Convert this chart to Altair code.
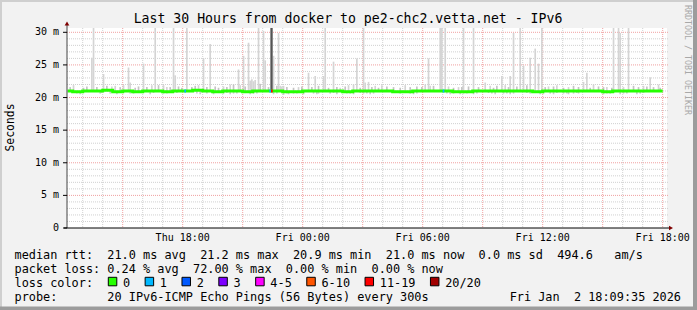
import altair as alt
import pandas as pd
from datetime import datetime, timedelta

MONO = "DejaVu Sans Mono"
T0 = datetime(2026, 1, 1, 12, 0, 0)  # Thu 12:00 (minute offsets below are from here)

# ---------------- data (minutes since Thu 12:00) ----------------
median_30min = [21.0, 20.9, 21.0, 21.0, 21.1, 20.9, 21.0, 20.9, 21.0, 21.0,
                20.9, 21.0, 21.0, 21.1, 21.0, 20.9, 21.0, 21.0, 20.9, 21.0,
                21.0, 21.0, 20.9, 20.9, 21.0, 21.0, 21.0, 21.0, 20.9, 21.0,
                21.0, 21.0, 21.0, 20.9, 20.9, 21.0, 21.0, 21.0, 21.0, 20.9,
                20.9, 21.0, 21.0, 21.0, 21.0, 21.0, 21.0, 20.9, 21.0, 21.0,
                21.0, 21.0, 21.0, 21.0, 20.9, 21.0, 21.0, 21.0, 21.0, 21.0]

spike_minute = [30, 85, 90, 120, 145, 155, 180, 195, 200, 240,
                265, 275, 300, 310, 330, 335, 370, 405, 420, 440,
                480, 500, 525, 530, 540, 555, 560, 565, 570, 575,
                585, 600, 605, 630, 645, 650, 655, 660, 705, 735,
                755, 780, 785, 810, 830, 855, 870, 880, 900, 905,
                915, 935, 955, 1025, 1085, 1095, 1100, 1130, 1135, 1145,
                1155, 1185, 1200, 1230, 1265, 1280, 1315, 1325, 1340, 1350,
                1370, 1380, 1400, 1415, 1425, 1435, 1455, 1480, 1515, 1560,
                1570, 1590, 1630, 1650, 1665, 1670, 1680, 1695, 1740, 1760,
                1785]
spike_top = [21.9, 26.1, 31.0, 23.6, 21.7, 21.8, 21.9, 24.6, 22.3, 25.2,
             21.9, 31.0, 21.9, 21.6, 31.0, 23.4, 31.0, 21.9, 26.0, 28.2,
             21.7, 22.0, 24.3, 21.9, 26.4, 28.4, 22.6, 22.8, 22.5, 22.7,
             31.0, 30.2, 25.7, 26.4, 29.9, 21.8, 21.7, 21.8, 21.6, 23.8,
             23.3, 23.3, 31.0, 25.5, 21.5, 21.9, 22.0, 26.0, 31.0, 22.3,
             22.4, 21.8, 21.9, 21.9, 22.0, 26.0, 21.8, 31.0, 31.0, 31.0,
             21.7, 21.6, 31.0, 31.0, 22.3, 21.8, 23.3, 21.9, 23.3, 29.9,
             31.0, 24.9, 26.1, 27.5, 25.2, 31.0, 21.7, 21.9, 21.6, 22.4,
             23.8, 22.0, 21.6, 31.0, 31.0, 29.9, 21.6, 31.0, 21.8, 23.1,
             22.0]

# small smoke bumps just above the median line
bump_minute = [20, 60, 70, 100, 130, 170, 215, 225, 250, 285,
               320, 345, 355, 385, 395, 430, 455, 465, 490, 510,
               545, 590, 615, 640, 670, 690, 715, 745, 765, 795,
               820, 845, 890, 925, 945, 970, 990, 1010, 1040, 1060,
               1075, 1110, 1170, 1195, 1215, 1245, 1290, 1300, 1335, 1360,
               1390, 1445, 1470, 1500, 1530, 1545, 1580, 1605, 1620, 1645,
               1710, 1725, 1750, 1770, 1790]
bump_top = [21.6, 21.5, 21.7, 21.6, 21.8, 21.6, 21.5, 21.7, 21.6, 21.9,
            21.6, 21.7, 21.5, 21.6, 21.8, 21.6, 21.7, 21.5, 21.6, 22.0,
            21.7, 22.1, 21.6, 21.8, 21.6, 21.5, 21.7, 21.6, 21.8, 21.5,
            21.6, 21.7, 21.5, 21.6, 21.5, 21.7, 21.6, 21.5, 21.6, 21.7,
            21.6, 21.8, 21.5, 21.6, 21.7, 21.6, 21.5, 21.8, 21.6, 21.7,
            21.9, 21.6, 21.7, 21.5, 21.8, 21.6, 21.5, 21.7, 21.6, 21.5,
            21.8, 21.6, 21.7, 21.6, 21.5]

# dense (dark) smoke column at the loss event: start/end minute and top
dark_start = [623]
dark_end = [630]
dark_top = [31.0]

base_minute = [40, 50, 110, 115, 140, 160, 200, 210, 260, 270,
               300, 310, 340, 400, 410, 430, 450, 480, 490, 500,
               510, 520, 535, 560, 570, 580, 630, 640, 660, 670,
               675, 690, 700, 710, 720, 750, 760, 765, 800, 810,
               820, 850, 860, 870, 890, 900, 910, 920, 930, 1010,
               1020, 1040, 1050, 1060, 1150, 1160, 1170, 1180, 1190, 1200,
               1210, 1230, 1240, 1275, 1285, 1295, 1320, 1330, 1340, 1350,
               1390, 1400, 1430, 1440, 1460, 1470, 1480, 1500, 1510, 1515,
               1530, 1540, 1545, 1620, 1630, 1640, 1650, 1670, 1680, 1690,
               1720, 1730, 1740]
base_lo = [20.6, 20.5, 20.6, 20.7, 20.6, 20.5, 20.6, 20.6, 20.5, 20.7,
           20.6, 20.6, 20.7, 20.6, 20.5, 20.6, 20.5, 20.6, 20.7, 20.5,
           20.6, 20.6, 20.7, 20.5, 20.6, 20.6, 20.5, 20.6, 20.4, 20.6,
           20.5, 20.6, 20.6, 20.7, 20.5, 20.6, 20.5, 20.6, 20.6, 20.7,
           20.5, 20.6, 20.6, 20.5, 20.7, 20.6, 20.6, 20.5, 20.6, 20.6,
           20.7, 20.6, 20.5, 20.6, 20.6, 20.5, 20.6, 20.7, 20.5, 20.6,
           20.6, 20.5, 20.6, 20.7, 20.6, 20.5, 20.6, 20.6, 20.5, 20.6,
           20.7, 20.6, 20.5, 20.6, 20.6, 20.5, 20.7, 20.6, 20.6, 20.5,
           20.6, 20.7, 20.6, 20.5, 20.6, 20.6, 20.7, 20.5, 20.6, 20.6,
           20.5, 20.6, 20.7]

loss_minute = [365, 620, 625, 1140]
loss_class = ["1", "1", "11-19", "1"]

loss_labels = ["0", "1", "2", "3", "4-5", "6-10", "11-19", "20/20"]
loss_colors = ["#26ff00", "#00b8ff", "#0059ff", "#7e00ff", "#ff00ff",
               "#ff5500", "#ff0000", "#a10000"]

y_ticks = [0, 5, 10, 15, 20, 25, 30]
y_tick_labels = ["0", "5 m", "10 m", "15 m", "20 m", "25 m", "30 m"]
x_label_minutes = [360, 720, 1080, 1440, 1800]
x_labels = ["Thu 18:00", "Fri 00:00", "Fri 06:00", "Fri 12:00", "Fri 18:00"]

stats_rtt = {"avg": 21.0, "max": 21.2, "min": 20.9, "now": 21.0, "sd": 0.0, "ams": 494.6}
stats_loss = {"avg": 0.24, "max": 72.00, "min": 0.00, "now": 0.00}
title_text = "Last 30 Hours from docker to pe2-chc2.vetta.net - IPv6"
probe_text = "20 IPv6-ICMP Echo Pings (56 Bytes) every 300s"
stamp_text = "Fri Jan  2 18:09:35 2026"

# ---------------- helpers ----------------
STEP = 5


def iso(m):
    return (T0 + timedelta(minutes=m)).strftime("%Y-%m-%dT%H:%M:%SZ")


bin_start = list(range(15, 1800, STEP))
med_of = {m: median_30min[m // 30] for m in bin_start}


def med_at(m):
    return median_30min[min(int(m) // 30, len(median_30min) - 1)]


line_df = pd.DataFrame({
    "t": [iso(m) for m in bin_start] + [iso(1800)],
    "v": [med_of[m] for m in bin_start] + [med_of[bin_start[-1]]],
})


def span_df(minutes, lo, hi, ends=None):
    ends = ends if ends is not None else [m + STEP for m in minutes]
    return pd.DataFrame({"t": [iso(m) for m in minutes],
                         "t2": [iso(m) for m in ends],
                         "lo": lo, "hi": hi})


spike_df = span_df(spike_minute, [med_at(m) for m in spike_minute], spike_top)
bump_df = span_df(bump_minute, [med_at(m) for m in bump_minute], bump_top)
dark_df = span_df(dark_start, [med_at(m) for m in dark_start], dark_top, ends=dark_end)
base_df = span_df(base_minute, base_lo, [med_at(m) for m in base_minute])
loss_df = span_df(loss_minute, [med_at(m) - 0.23 for m in loss_minute],
                  [med_at(m) + 0.23 for m in loss_minute])
loss_df["loss"] = loss_class

minor_v = pd.DataFrame({"t": [iso(m) for m in range(60, 1801, 60) if m % 180 != 0]})
major_v = pd.DataFrame({"t": [iso(m) for m in range(180, 1801, 180)]})
minor_h = pd.DataFrame({"v": [v for v in range(1, 31) if v % 5 != 0]})
major_h = pd.DataFrame({"v": [v for v in range(5, 31, 5)]})
ytick_df = pd.DataFrame({"v": y_ticks, "lab": y_tick_labels})
xlab_df = pd.DataFrame({"t": [iso(m) for m in x_label_minutes], "lab": x_labels})

start = alt.DateTime(year=2026, month=1, date=1, hours=12, minutes=12, seconds=54, utc=True)
end = alt.DateTime(year=2026, month=1, date=2, hours=18, minutes=12, seconds=54, utc=True)
xscale = alt.Scale(type="utc", domain=[start, end])
yscale = alt.Scale(domain=[0, 30.66], nice=False, zero=False)


def X(f="t"):
    return alt.X(f + ":T", scale=xscale, axis=None)


def Y(f):
    return alt.Y(f + ":Q", scale=yscale, axis=None)


GRID = "#d0d0d0"
MGRID = "#f0a0a0"
OX, OY = 67, 28
one = pd.DataFrame({"k": [0]})

layers = []
layers.append(alt.Chart(minor_h).mark_rule(color=GRID, strokeDash=[1, 1], strokeWidth=1)
              .encode(y=Y("v"), x=alt.value(0), x2=alt.value(601)))
layers.append(alt.Chart(minor_v).mark_rule(color=GRID, strokeDash=[1, 1], strokeWidth=1)
              .encode(x=X(), y=alt.value(0), y2=alt.value(200)))
layers.append(alt.Chart(major_h).mark_rule(color=MGRID, strokeDash=[1, 1], strokeWidth=1)
              .encode(y=Y("v"), x=alt.value(0), x2=alt.value(601)))
layers.append(alt.Chart(major_v).mark_rule(color=MGRID, strokeDash=[1, 1], strokeWidth=1)
              .encode(x=X(), y=alt.value(0), y2=alt.value(200)))

layers.append(alt.Chart(base_df).mark_rect(color="#cccccc", clip=True)
              .encode(x=X(), x2="t2:T", y=Y("lo"), y2="hi:Q"))
layers.append(alt.Chart(spike_df).mark_rect(color="#d4d4d4", clip=True)
              .encode(x=X(), x2="t2:T", y=Y("lo"), y2="hi:Q"))
layers.append(alt.Chart(bump_df).mark_rect(color="#c4c4c4", clip=True)
              .encode(x=X(), x2="t2:T", y=Y("lo"), y2="hi:Q"))
layers.append(alt.Chart(dark_df).mark_rect(color="#555555", clip=True)
              .encode(x=X(), x2="t2:T", y=Y("lo"), y2="hi:Q"))

layers.append(alt.Chart(line_df).mark_line(color="#26ff00", strokeWidth=3, interpolate="step-after")
              .encode(x=X(), y=Y("v")))
layers.append(alt.Chart(loss_df).mark_rect()
              .encode(x=X(), x2="t2:T", y=Y("lo"), y2="hi:Q",
                      color=alt.Color("loss:N", scale=alt.Scale(domain=loss_labels, range=loss_colors),
                                      legend=None)))

# axis lines
layers.append(alt.Chart(one).mark_rule(color="#444444", strokeWidth=1)
              .encode(x=alt.value(0), y=alt.value(23.5 - OY), y2=alt.value(200)))
layers.append(alt.Chart(one).mark_rule(color="#000000", strokeWidth=1)
              .encode(y=alt.value(200), x=alt.value(-3), x2=alt.value(604)))
# y ticks and labels
layers.append(alt.Chart(ytick_df).mark_rule(color="#000000", strokeWidth=1)
              .encode(y=Y("v"), x=alt.value(-4), x2=alt.value(0)))
layers.append(alt.Chart(ytick_df).mark_text(align="right", baseline="middle", font=MONO, fontSize=10, color="#000")
              .encode(y=Y("v"), x=alt.value(-8), text="lab:N"))
# x labels
layers.append(alt.Chart(xlab_df).mark_text(align="center", baseline="alphabetic", font=MONO, fontSize=10, color="#000")
              .encode(x=X(), y=alt.value(240.5 - OY), text="lab:N"))
# arrows
layers.append(alt.Chart(one).mark_point(shape="triangle-up", filled=True, size=22, color="#7f0000", opacity=1)
              .encode(x=alt.value(0), y=alt.value(23.5 - OY)))
layers.append(alt.Chart(one).mark_point(shape="triangle-right", filled=True, size=22, color="#7f0000", opacity=1)
              .encode(x=alt.value(671 - OX), y=alt.value(200)))

# borders
layers.append(alt.Chart(one).mark_rule(color="#cfcfcf", strokeWidth=2)
              .encode(y=alt.value(1 - OY), x=alt.value(-OX), x2=alt.value(697 - OX)))
layers.append(alt.Chart(one).mark_rule(color="#cfcfcf", strokeWidth=2)
              .encode(x=alt.value(1 - OX), y=alt.value(-OY), y2=alt.value(310 - OY)))
layers.append(alt.Chart(one).mark_rule(color="#9c9c9c", strokeWidth=4)
              .encode(x=alt.value(695 - OX), y=alt.value(-OY), y2=alt.value(310 - OY)))
layers.append(alt.Chart(one).mark_rule(color="#9c9c9c", strokeWidth=3.4)
              .encode(y=alt.value(308.3 - OY), x=alt.value(-OX), x2=alt.value(697 - OX)))


def label(s, x, y, size=11.86, align="left", baseline="alphabetic", color="#000", angle=None):
    kw = dict(align=align, baseline=baseline, font=MONO, fontSize=size, color=color)
    if angle is not None:
        kw["angle"] = angle
    return alt.Chart(one).mark_text(**kw).encode(
        x=alt.value(x - OX), y=alt.value(y - OY), text=alt.value(s.replace(" ", "\u00a0")))


layers.append(label(title_text, 348, 23, size=13.2, align="center"))
layers.append(label("Seconds", 11, 127.5, size=11.4, align="center", baseline="middle", angle=270))
layers.append(label("RRDTOOL / TOBI OETIKER", 687, 5, size=8.3, baseline="middle", color="#a8a8a8", angle=90))

r = stats_rtt
line1 = (f"median rtt:  {r['avg']:.1f} ms avg  {r['max']:.1f} ms max  {r['min']:.1f} ms min  "
         f"{r['now']:.1f} ms now  {r['sd']:.1f} ms sd  {r['ams']:.1f}   am/s")
l = stats_loss
line2 = f"packet loss: {l['avg']:.2f} % avg  {l['max']:.2f} % max  {l['min']:.2f} % min  {l['now']:.2f} % now"
LX = 14.5
layers.append(label(line1, LX, 258.5))
layers.append(label(line2, LX, 272.5))
layers.append(label("loss color:", LX, 286.5))
layers.append(label("probe:       " + probe_text, LX, 300.5))
layers.append(label(stamp_text, 681, 300.5, align="right"))

CW = 7.14
cursor = 108.3
for name, col in zip(loss_labels, loss_colors):
    layers.append(alt.Chart(one).mark_rect(color=col, stroke="#000", strokeWidth=1).encode(
        x=alt.value(cursor - OX), x2=alt.value(cursor + 8.5 - OX),
        y=alt.value(277.3 - OY), y2=alt.value(285.8 - OY)))
    layers.append(label(name, cursor + 14.7, 286.5))
    cursor += 14.7 + len(name) * CW + 15

chart = (alt.layer(*layers)
         .properties(width=600, height=200, autosize=alt.AutoSizeParams(type="none"),
                     padding={"left": 67, "top": 28, "right": 30, "bottom": 82},
                     background="#f2f2f2")
         .configure_view(stroke=None, fill="white"))

chart.save("out.html", embed_options={"renderer": "svg", "actions": False})
